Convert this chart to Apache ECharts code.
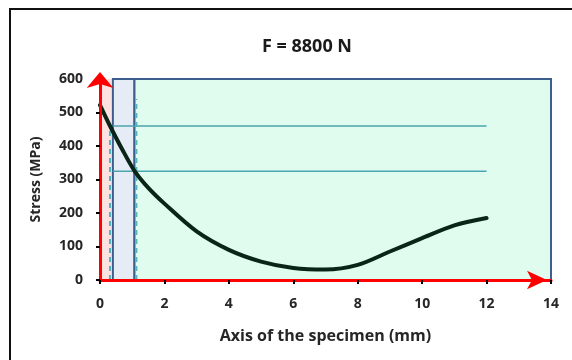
<!DOCTYPE html>
<html>
<head>
<meta charset="utf-8">
<script src="https://cdn.jsdelivr.net/npm/echarts@6/dist/echarts.min.js"></script>
<style>
  html, body { margin: 0; padding: 0; background: #fff; }
  #chart { width: 572px; height: 360px; }
</style>
</head>
<body>
<div id="chart"></div>
<script>
// stress along the specimen axis
const posMm = [0, 0.3, 0.7, 1.07, 1.5, 2, 3, 4, 5, 6, 7, 8, 9, 10, 11, 12];
const stressMpa = [522, 462, 388, 326, 275, 228, 145, 90, 55, 36, 31, 45, 85, 125, 163, 185];

// zone limits (mm) and reference levels (MPa)
const zoneEdges = [0, 0.4, 1.07, 14];
const levels = [460, 325];
const levelSpan = [0.4, 12];
const dashPos = [0.31, 1.13];
const dashTop = [450, 540];

const xTicks = { min: 0, max: 14, step: 2 };
const yTicks = { min: 0, max: 600, step: 100 };

const zoneColors = ['#fde2e2', '#e6ecf6', '#e0fcee'];

const labelFont = { color: '#262626', fontWeight: 'bold', fontFamily: 'Open Sans', fontSize: 14 };

let chart = echarts.init(document.getElementById('chart'));

let zones = [];
for (let i = 0; i < zoneEdges.length - 1; i++) {
  zones.push([
    { xAxis: zoneEdges[i], yAxis: yTicks.min, itemStyle: {
        color: zoneColors[i],
        borderColor: i == 0 ? 'transparent' : '#3c5f8e',
        borderWidth: i == 0 ? 0 : 2 } },
    { xAxis: zoneEdges[i + 1], yAxis: yTicks.max }
  ]);
}

let series = [];
// background zones
series.push({
  type: 'line', data: [], silent: true,
  markArea: { silent: true, data: zones }
});
// reference levels
levels.forEach(function (v) {
  series.push({
    type: 'line', symbol: 'none', silent: true,
    lineStyle: { color: '#4ba5ae', width: 1.5 },
    data: [[levelSpan[0], v], [levelSpan[1], v]]
  });
});
// dashed markers
dashPos.forEach(function (p, i) {
  series.push({
    type: 'line', symbol: 'none', silent: true,
    lineStyle: { color: '#52b5bd', width: 2, type: [5, 4] },
    data: [[p, 0], [p, dashTop[i]]]
  });
});
// stress curve
series.push({
  type: 'line', symbol: 'none', smooth: 0.3,
  lineStyle: { color: '#0b2418', width: 4, cap: 'round' },
  data: posMm.map(function (x, i) { return [x, stressMpa[i]]; }),
  z: 5
});

chart.setOption({
  animation: false,
  title: {
    text: 'F = 8800 N', left: 257, top: 33,
    textStyle: { color: '#1a1a1a', fontWeight: 'bold', fontFamily: 'Open Sans', fontSize: 18 }
  },
  graphic: [{
    type: 'rect', silent: true,
    shape: { x: 10, y: 9, width: 700, height: 500 },
    style: { fill: 'none', stroke: '#111', lineWidth: 2 }
  }],
  grid: { left: 100, right: 21, top: 79, bottom: 80 },
  xAxis: {
    type: 'value', min: xTicks.min, max: xTicks.max, interval: xTicks.step, z: 10,
    name: 'Axis of the specimen (mm)', nameLocation: 'middle', nameGap: 48,
    nameTextStyle: { color: '#262626', fontWeight: 'bold', fontFamily: 'Open Sans', fontSize: 16 },
    axisLine: { lineStyle: { color: '#ff0000', width: 3 }, symbol: ['none', 'arrow'], symbolSize: [14, 20], symbolOffset: [0, -4] },
    axisTick: { show: true, length: 4, lineStyle: { color: '#000', width: 2 } },
    axisLabel: Object.assign({ margin: 17 }, labelFont),
    splitLine: { show: false }
  },
  yAxis: {
    type: 'value', min: yTicks.min, max: yTicks.max, interval: yTicks.step, z: 10,
    name: 'Stress (MPa)', nameLocation: 'middle', nameGap: 57,
    nameTextStyle: { color: '#262626', fontWeight: 'bold', fontFamily: 'Open Sans', fontSize: 14 },
    axisLine: { show: true, lineStyle: { color: '#ff0000', width: 3 }, symbol: ['none', 'arrow'], symbolSize: [20, 16], symbolOffset: [0, 7] },
    axisTick: { show: true, length: 4, lineStyle: { color: '#000', width: 2 } },
    axisLabel: Object.assign({ margin: 17 }, labelFont),
    splitLine: { show: false }
  },
  series: series
});
</script>
</body>
</html>
